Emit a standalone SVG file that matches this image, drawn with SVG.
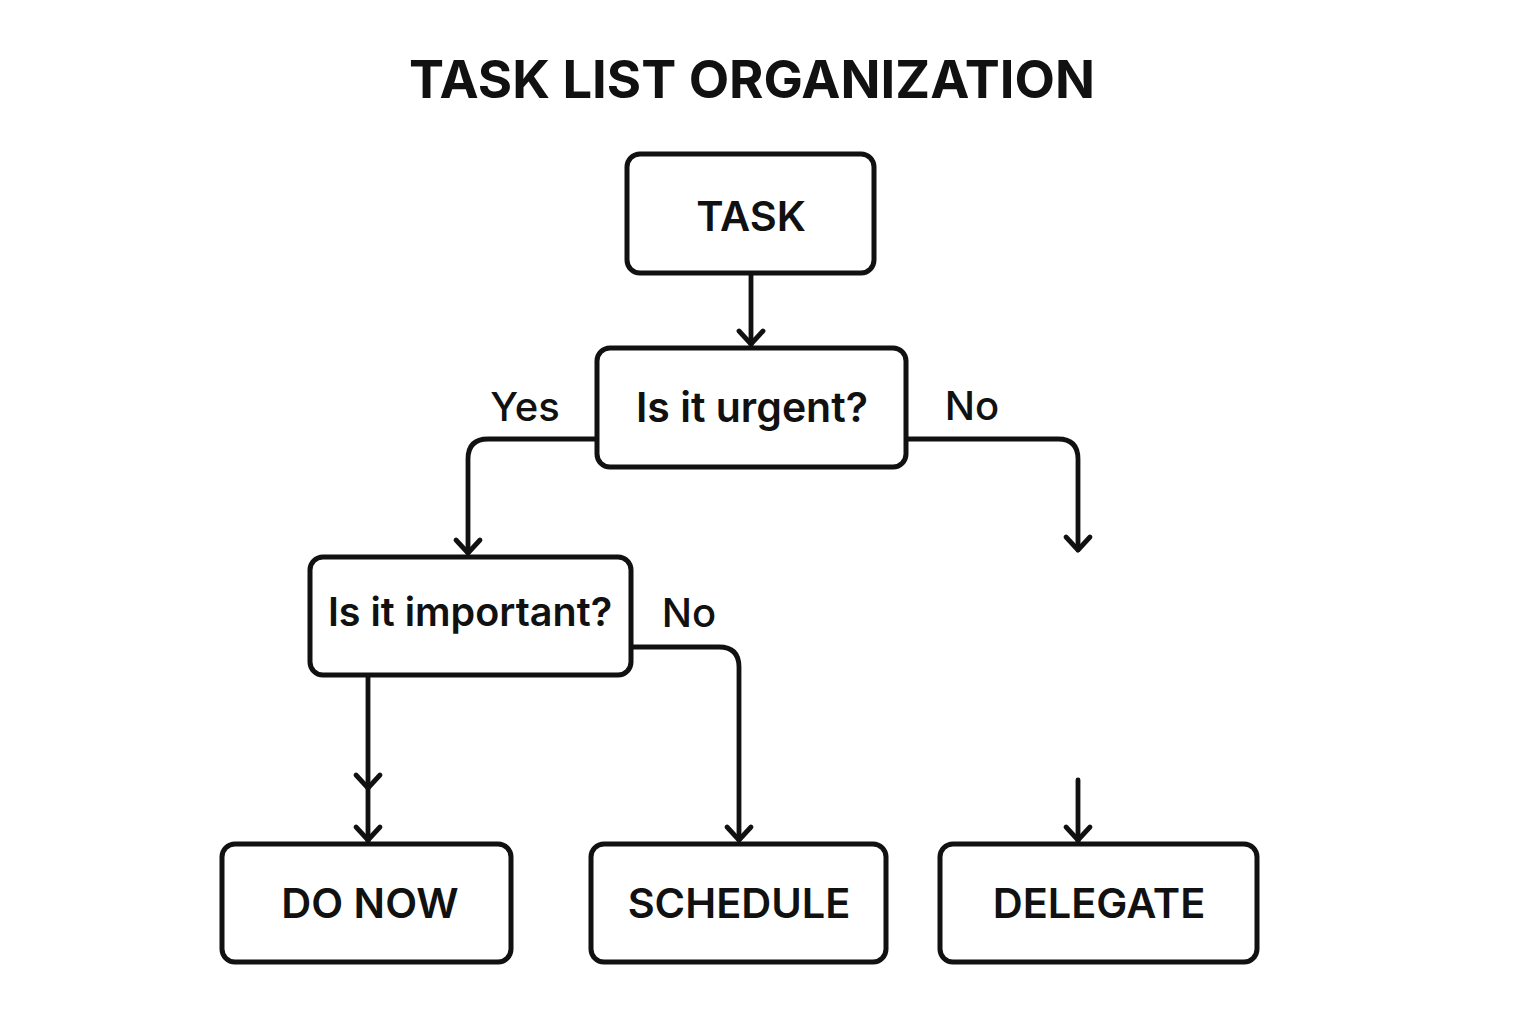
<svg xmlns="http://www.w3.org/2000/svg" width="1536" height="1024" viewBox="0 0 1536 1024">
<defs>
<style>
.box{fill:#fff;stroke:#111;stroke-width:5}
.t{font-family:Inter,"Liberation Sans",sans-serif;font-weight:600;fill:#111;text-anchor:middle}
.big{font-size:41.5px}
.q{font-size:39.5px}
.q2{font-size:41px}
.lbl{font-size:40px;font-weight:500}
.title{font-family:Inter,"Liberation Sans",sans-serif;font-weight:700;font-size:52.5px;fill:#111;text-anchor:middle}
.c{fill:none;stroke:#111;stroke-width:4.8;stroke-linecap:round;stroke-linejoin:round}
</style>
</defs>
<rect width="1536" height="1024" fill="#fff"/>
<text class="title" x="752" y="98">TASK LIST ORGANIZATION</text>
<g id="connectors">
<path class="c" d="M751 273 V345"/>
<path d="M739 331 L751 344 L763 331" class="c"/>
<path class="c" d="M597 439 H488 Q468 439 468 459 V553"/>
<path d="M456 540 L468 553 L480 540" class="c"/>
<path class="c" d="M906 439 H1058 Q1078 439 1078 459 V550"/>
<path d="M1066 537 L1078 550 L1090 537" class="c"/>
<path class="c" d="M631 647 H719 Q739 647 739 667 V840"/>
<path d="M727 827 L739 840 L751 827" class="c"/>
<path class="c" d="M368 675 V842"/>
<path d="M356 775 L368 788 L380 775" class="c"/>
<path d="M356 827 L368 840 L380 827" class="c"/>
<path class="c" d="M1078 780 V842"/>
<path d="M1066 827 L1078 840 L1090 827" class="c"/>
<text class="t lbl" x="525" y="421">Yes</text>
<text class="t lbl" x="972" y="420">No</text>
<text class="t lbl" x="689" y="627">No</text>
</g>
<g id="task">
<rect class="box" x="627" y="154" width="247" height="119" rx="13"/>
<text class="t big" x="751" y="231">TASK</text>
</g>
<g id="urgent">
<rect class="box" x="597" y="348" width="309" height="119" rx="13"/>
<text class="t q2" x="752" y="422">Is it urgent?</text>
</g>
<g id="important">
<rect class="box" x="310" y="557" width="321" height="118" rx="13"/>
<text class="t q" x="470" y="626">Is it important?</text>
</g>
<g id="donow">
<rect class="box" x="222" y="844" width="289" height="118" rx="13"/>
<text class="t big" x="370" y="918">DO NOW</text>
</g>
<g id="schedule">
<rect class="box" x="591" y="844" width="295" height="118" rx="13"/>
<text class="t big" x="739" y="918">SCHEDULE</text>
</g>
<g id="delegate">
<rect class="box" x="940" y="844" width="317" height="118" rx="13"/>
<text class="t big" x="1099" y="918">DELEGATE</text>
</g>
</svg>
